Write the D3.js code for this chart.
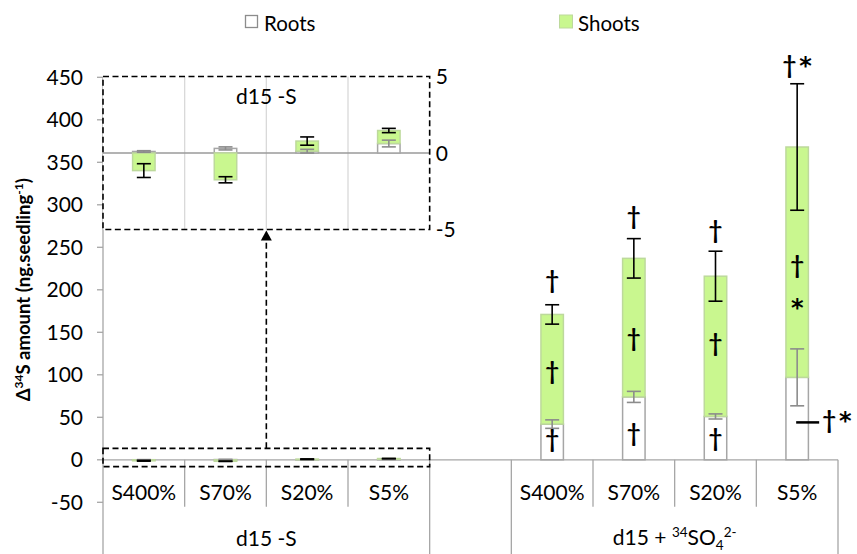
<!DOCTYPE html>
<html>
<head>
<meta charset="UTF-8">
<script src="https://d3js.org/d3.v7.min.js"></script>
<style>
  body { margin: 0; background: #fff; }
  text { font-family: Lato, "DejaVu Sans", sans-serif; fill: #000; }
</style>
</head>
<body>
<svg id="chart"></svg>
<script>
// categories
const cats = ["S400%", "S70%", "S20%", "S5%"];
const groupMinus = "d15 -S";
const yTicks = [-50, 0, 50, 100, 150, 200, 250, 300, 350, 400, 450];
const insetTicks = [5, 0, -5];

// d15 -S (tiny values, shown in inset)
const rootsMinus = [0.1, 0.3, 0.12, 0.62];
const rootsMinusErr = [0.05, 0.1, 0.12, 0.22];
const shootsMinus = [-1.15, -1.75, 0.66, 0.85];
const shootsMinusErr = [0.45, 0.2, 0.27, 0.14];

// d15 + 34SO4 2-
const rootsPlus = [42, 74, 51, 97];
const rootsPlusErr = [5, 6.5, 3, 33.5];
const shootsPlus = [129, 163, 165, 271];
const shootsPlusErr = [11.4, 23.2, 29.4, 74.4];

// significance marks (value = vertical position in data units)
const marks = [
  {cat: 0, v: 209, t: "†"}, {cat: 1, v: 284, t: "†"}, {cat: 2, v: 268, t: "†"}, {cat: 3, v: 462, t: "†*"},
  {cat: 0, v: 102, t: "†"}, {cat: 1, v: 141, t: "†"}, {cat: 2, v: 135, t: "†"}, {cat: 3, v: 227, t: "†"},
  {cat: 3, v: 186, t: "*"},
  {cat: 0, v: 22, t: "†"}, {cat: 1, v: 29, t: "†"}, {cat: 2, v: 23, t: "†"}
];
const rootMarkS5 = 44;

const width = 857, height = 554;
const margin = {top: 77.3, right: 19, bottom: 52, left: 103};
const green = "#c9f78f", greenEdge = "#bdd99c", rootEdge = "#a6a6a6", axisGray = "#a6a6a6";

const svg = d3.select("#chart").attr("width", width).attr("height", height);

const keys = cats.map(c => "m|" + c).concat(["gap"], cats.map(c => "p|" + c));
const x = d3.scaleBand().domain(keys).range([margin.left, width - margin.right]).padding(0);
const bw = x.bandwidth() * 0.275;
const y = d3.scaleLinear().domain([-50, 450]).range([502.3, margin.top]);
const yi = d3.scaleLinear().domain([-5, 5]).range([229.5, 76.5]);

function stackRows(prefix, roots, rErr, shoots, sErr) {
  return cats.map((c, i) => {
    const r = roots[i], s = shoots[i];
    const s0 = s >= 0 ? Math.max(r, 0) : Math.min(r, 0);
    return {key: prefix + c, r, rErr: rErr[i], s0, s1: s0 + s, sErr: sErr[i]};
  });
}
const rowsMinus = stackRows("m|", rootsMinus, rootsMinusErr, shootsMinus, shootsMinusErr);
const rowsPlus = stackRows("p|", rootsPlus, rootsPlusErr, shootsPlus, shootsPlusErr);

function drawBars(g, rows, ys) {
  const cx = d => x(d.key) + x.bandwidth() / 2;
  g.selectAll(".root").data(rows).join("rect")
    .attr("x", d => cx(d) - bw / 2).attr("width", bw)
    .attr("y", d => ys(Math.max(d.r, 0))).attr("height", d => Math.abs(ys(0) - ys(d.r)))
    .attr("fill", "#fff").attr("stroke", rootEdge).attr("stroke-width", 1.5);
  g.selectAll(".shoot").data(rows).join("rect")
    .attr("x", d => cx(d) - bw / 2).attr("width", bw)
    .attr("y", d => ys(Math.max(d.s0, d.s1))).attr("height", d => Math.abs(ys(d.s0) - ys(d.s1)))
    .attr("fill", green).attr("stroke", greenEdge).attr("stroke-width", 1.5);
  const err = (cls, val, e, color) => {
    const eg = g.selectAll("." + cls).data(rows).join("g").attr("class", cls)
      .attr("stroke", color).attr("stroke-width", 1.6);
    eg.append("line").attr("x1", cx).attr("x2", cx)
      .attr("y1", d => ys(val(d) - e(d))).attr("y2", d => ys(val(d) + e(d)));
    [1, -1].forEach(sg => eg.append("line")
      .attr("x1", d => cx(d) - 7).attr("x2", d => cx(d) + 7)
      .attr("y1", d => ys(val(d) + sg * e(d))).attr("y2", d => ys(val(d) + sg * e(d))));
  };
  err("rerr", d => d.r, d => d.rErr, "#8c8c8c");
  err("serr", d => d.s1, d => d.sErr, "#000");
}

// writes a mark like "†*" : dagger in Lato, asterisk in DejaVu (larger glyph)
function markText(sel, t) {
  sel.selectAll("tspan").data(t.split("")).join("tspan")
    .attr("font-size", 24)
    .attr("font-family", c => c === "*" ? "DejaVu Sans" : null)
    .attr("dy", (c, i) => {
      if (c !== "*") return i > 0 && t[i - 1] === "*" && t.length === 1 ? -7 : 0;
      return t.length === 1 ? 7 : 0;
    })
    .attr("dx", (c, i) => i > 0 ? 3 : 0)
    .text(c => c);
}

// axis lines
svg.append("line").attr("x1", margin.left).attr("x2", margin.left)
  .attr("y1", y(450)).attr("y2", height).attr("stroke", axisGray).attr("stroke-width", 1.3);
svg.append("g").selectAll("line").data(yTicks).join("line")
  .attr("x1", margin.left - 6).attr("x2", margin.left)
  .attr("y1", d => y(d)).attr("y2", d => y(d)).attr("stroke", axisGray).attr("stroke-width", 1.3);
svg.append("g").selectAll("text").data(yTicks).join("text")
  .attr("x", margin.left - 20).attr("y", d => y(d)).attr("dy", "0.36em")
  .attr("text-anchor", "end").attr("font-size", 21).text(d => d);

// y title
const yt = svg.append("text").attr("transform", `translate(30,${(y(450) + y(-50)) / 2}) rotate(-90)`)
  .attr("text-anchor", "middle").attr("font-size", 18.5).attr("font-weight", "bold");
yt.append("tspan").text("Δ");
yt.append("tspan").attr("font-size", 12).attr("dy", -7).text("34");
yt.append("tspan").attr("dy", 7).text("S amount (ng.seedling");
yt.append("tspan").attr("font-size", 12).attr("dy", -7).text("-1");
yt.append("tspan").attr("dy", 7).text(")");

// category axis
const x0 = y(0);
svg.append("line").attr("x1", margin.left).attr("x2", width - margin.right)
  .attr("y1", x0).attr("y2", x0).attr("stroke", axisGray).attr("stroke-width", 1.3);
const edges = keys.slice(1).map(k => x(k)).concat([x.range()[1]]);
const groupEdges = [x("gap"), x("p|S400%"), x.range()[1]];
svg.append("g").selectAll("line").data(edges).join("line")
  .attr("x1", d => d).attr("x2", d => d).attr("y1", x0)
  .attr("y2", d => groupEdges.some(e => Math.abs(e - d) < 0.5) ? height : x0 + 47)
  .attr("stroke", axisGray).attr("stroke-width", 1.3);
svg.append("g").selectAll("text").data(keys.filter(k => k !== "gap")).join("text")
  .attr("x", d => x(d) + x.bandwidth() / 2).attr("y", 500)
  .attr("text-anchor", "middle").attr("font-size", 21).text(d => d.split("|")[1]);
svg.append("text").attr("x", (x("m|S400%") + x("gap")) / 2).attr("y", 546)
  .attr("text-anchor", "middle").attr("font-size", 21).text(groupMinus);
const gp = svg.append("text").attr("x", (x("p|S400%") + x.range()[1]) / 2).attr("y", 545)
  .attr("text-anchor", "middle").attr("font-size", 21);
gp.append("tspan").text("d15 + ");
gp.append("tspan").attr("font-size", 13.5).attr("dy", -8).text("34");
gp.append("tspan").attr("dy", 8).text("SO");
gp.append("tspan").attr("font-size", 13.5).attr("dy", 5).text("4");
gp.append("tspan").attr("font-size", 13.5).attr("dy", -13).text("2-");

// bars in main chart
drawBars(svg.append("g"), rowsMinus, y);
drawBars(svg.append("g"), rowsPlus, y);

// marks
const cxP = i => x("p|" + cats[i]) + x.bandwidth() / 2;
svg.append("g").selectAll("text").data(marks).join("text")
  .attr("x", d => cxP(d.cat)).attr("y", d => y(d.v) + 7)
  .attr("text-anchor", "middle").attr("font-weight", "bold")
  .each(function(d) { markText(d3.select(this), d.t); });
svg.append("line").attr("x1", cxP(3) - 1).attr("x2", cxP(3) + 22)
  .attr("y1", y(rootMarkS5)).attr("y2", y(rootMarkS5)).attr("stroke", "#000").attr("stroke-width", 2.5);
svg.append("text").attr("x", cxP(3) + 25).attr("y", y(rootMarkS5) + 7)
  .attr("font-weight", "bold").call(markText, "†*");

// inset
const inL = x("m|S400%"), inR = x("gap");
const inset = svg.append("g");
inset.append("rect").attr("x", inL).attr("y", yi(5)).attr("width", inR - inL).attr("height", yi(-5) - yi(5))
  .attr("fill", "#fff");
inset.append("g").selectAll("line").data(cats.slice(1)).join("line")
  .attr("x1", d => x("m|" + d)).attr("x2", d => x("m|" + d))
  .attr("y1", yi(5)).attr("y2", yi(-5)).attr("stroke", "#d9d9d9").attr("stroke-width", 1.3);
inset.append("line").attr("x1", inL).attr("x2", inR).attr("y1", yi(0)).attr("y2", yi(0))
  .attr("stroke", "#9a9a9a").attr("stroke-width", 1.5);
drawBars(inset.append("g"), rowsMinus, yi);
inset.append("text").attr("x", x("m|S20%")).attr("y", 104).attr("text-anchor", "middle")
  .attr("font-size", 21).text(groupMinus);
inset.append("rect").attr("x", inL).attr("y", yi(5)).attr("width", inR - inL).attr("height", yi(-5) - yi(5))
  .attr("fill", "none").attr("stroke", "#000").attr("stroke-width", 1.6).attr("stroke-dasharray", "6,3.5");
inset.append("g").selectAll("text").data(insetTicks).join("text")
  .attr("x", inR + 6).attr("y", d => yi(d)).attr("dy", "0.36em").attr("font-size", 21).text(d => d);

// zoom box around zero and arrow
svg.append("rect").attr("x", inL).attr("y", y(13.5)).attr("width", inR - inL).attr("height", y(-8) - y(13.5))
  .attr("fill", "none").attr("stroke", "#000").attr("stroke-width", 1.6).attr("stroke-dasharray", "6,3.5");
const ax = x("m|S20%");
svg.append("line").attr("x1", ax).attr("x2", ax).attr("y1", y(13.5)).attr("y2", yi(-5) + 9)
  .attr("stroke", "#000").attr("stroke-width", 1.6).attr("stroke-dasharray", "6,3.5");
svg.append("path").attr("d", `M${ax},${yi(-5) + 1}L${ax - 5.5},${yi(-5) + 11}L${ax + 5.5},${yi(-5) + 11}Z`)
  .attr("fill", "#000");

// legend
const leg = svg.append("g");
leg.append("rect").attr("x", 245.5).attr("y", 15.5).attr("width", 12).attr("height", 12)
  .attr("fill", "#fff").attr("stroke", "#8c8c8c").attr("stroke-width", 1.3);
leg.append("text").attr("x", 264).attr("y", 31).attr("font-size", 20.5).text("Roots");
leg.append("rect").attr("x", 559.5).attr("y", 15).attr("width", 13).attr("height", 13)
  .attr("fill", green).attr("stroke", greenEdge);
leg.append("text").attr("x", 578).attr("y", 31).attr("font-size", 20.5).text("Shoots");
</script>
</body>
</html>
